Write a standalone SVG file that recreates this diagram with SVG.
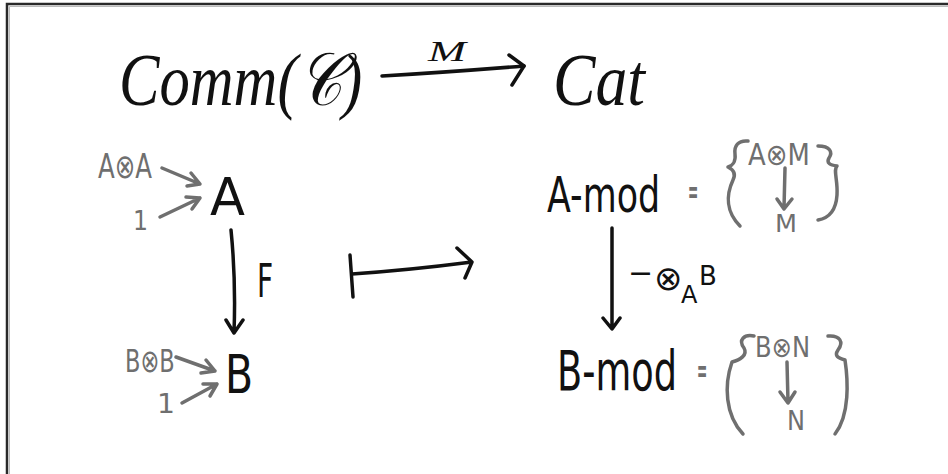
<svg xmlns="http://www.w3.org/2000/svg" width="948" height="474" viewBox="0 0 948 474">
<style>
.blk{fill:#111;font-family:"DejaVu Sans","Liberation Sans",sans-serif}
.gry{fill:#6f6f6f;font-family:"DejaVu Sans","Liberation Sans",sans-serif}
.scr{fill:#111;font-family:"Liberation Serif","DejaVu Serif",serif;font-style:italic}
.lk{fill:none;stroke:#111;stroke-width:3.5;stroke-linecap:round;stroke-linejoin:round}
.lg{fill:none;stroke:#6f6f6f;stroke-width:3.5;stroke-linecap:round;stroke-linejoin:round}
</style>
<rect width="948" height="474" fill="#fff"/>
<path d="M7,474 L7,4 L948,4" fill="none" stroke="#2a2a2a" stroke-width="2.5"/>
<path d="M9.5,474 L9.5,6.5 L948,6.5" fill="none" stroke="#bbb" stroke-width="1"/>

<g id="comm">
<text class="scr" transform="translate(119,105) scale(0.8,1)" font-size="74" textLength="304" lengthAdjust="spacingAndGlyphs">Comm(𝒞)</text>
</g>
<g id="cat">
<text class="scr" transform="translate(553,105) scale(0.86,1)" font-size="74" textLength="107" lengthAdjust="spacingAndGlyphs">Cat</text>
</g>
<g id="A">
<text class="blk" x="210" y="215" font-size="52" textLength="35" lengthAdjust="spacingAndGlyphs">A</text>
</g>
<g id="B">
<text class="blk" transform="translate(225,393) scale(0.76,1)" font-size="54" textLength="37" lengthAdjust="spacingAndGlyphs">B</text>
</g>
<g id="AxA">
<text class="gry" transform="translate(98,178) scale(0.72,1)" font-size="34" textLength="75" lengthAdjust="spacingAndGlyphs">A⊗A</text>
</g>
<g id="oneA">
<text class="gry" x="133" y="230" font-size="27" textLength="15" lengthAdjust="spacingAndGlyphs">1</text>
</g>
<g id="BxB">
<text class="gry" transform="translate(125,372) scale(0.71,1)" font-size="32" textLength="70" lengthAdjust="spacingAndGlyphs">B⊗B</text>
</g>
<g id="oneB">
<text class="gry" x="157" y="413" font-size="27" textLength="18" lengthAdjust="spacingAndGlyphs">1</text>
</g>
<g id="Amod">
<text class="blk" transform="translate(547,212) scale(0.69,1)" font-size="50" textLength="164" lengthAdjust="spacingAndGlyphs">A-mod</text>
<text class="gry" transform="translate(688,203) scale(0.38,1)" font-size="32" font-weight="bold" textLength="27" lengthAdjust="spacingAndGlyphs">=</text>
<path class="lg" d="M748,141 C738,140 734,146 735,154 C736,162 732,166 728,167 C734,170 736,174 733,180 C726,195 726,212 740,226"/>
<path class="lg" d="M818,146 C830,146 833,152 829,158 C826,163 830,165 837,166 C833,170 838,180 837,195 C836,210 830,218 818,220"/>
<text class="gry" transform="translate(748,165) scale(0.87,1)" font-size="30" textLength="71" lengthAdjust="spacingAndGlyphs">A⊗M</text>
<text class="gry" x="775" y="232" font-size="24" textLength="22" lengthAdjust="spacingAndGlyphs">M</text>
</g>
<g id="Bmod">
<text class="blk" transform="translate(557,390) scale(0.66,1)" font-size="56" textLength="182" lengthAdjust="spacingAndGlyphs">B-mod</text>
<text class="gry" transform="translate(697,382) scale(0.38,1)" font-size="32" font-weight="bold" textLength="27" lengthAdjust="spacingAndGlyphs">=</text>
<path class="lg" d="M754,336 C744,334 738,340 744,348 C748,355 740,360 732,362 C724,385 725,415 743,434"/>
<path class="lg" d="M828,336 C840,335 844,342 838,350 C834,356 838,358 845,360 C848,380 850,415 835,434"/>
<text class="gry" transform="translate(755,357) scale(0.86,1)" font-size="28" textLength="64" lengthAdjust="spacingAndGlyphs">B⊗N</text>
<text class="gry" x="787" y="430" font-size="27" textLength="18" lengthAdjust="spacingAndGlyphs">N</text>
</g>

<g id="connectors">
<path class="lk" stroke-width="4" d="M382,76 Q450,72 524,66"/>
<path class="lk" stroke-width="4" d="M509,55 L524,66 L512,85"/>
<text class="scr" x="428" y="61" font-size="30" textLength="38" lengthAdjust="spacingAndGlyphs">M</text>

<path class="lg" d="M162,168 L200,184 M187,186 L200,184 L191,173"/>
<path class="lg" d="M160,217 L200,198 M192,209 L200,198 L186,197"/>
<path class="lg" d="M176,357 L215,371 M201,373 L215,371 L206,360"/>
<path class="lg" d="M182,403 L217,384 M210,396 L217,384 L203,384"/>

<path class="lk" d="M231,230 Q236,280 234,333 M226,320 L234,333 L243,320"/>
<text class="blk" transform="translate(257,297) scale(0.62,1)" font-size="46" textLength="26" lengthAdjust="spacingAndGlyphs">F</text>

<path class="lk" stroke-width="5" d="M350,255 L353,297"/>
<path class="lk" d="M352,274 Q410,270 472,262 M457,248 L472,262 L465,278"/>

<path class="lk" d="M612,228 L612,328 M603,318 L612,329 L620,318"/>
<text class="blk" font-size="30"><tspan x="628" y="283">−</tspan><tspan x="654" y="290" font-size="34">⊗</tspan><tspan x="681" y="303" font-size="24">A</tspan><tspan x="699" y="285" font-size="26">B</tspan></text>

<path class="lg" d="M785,168 L784,208 M777,199 L784,209 L792,199"/>
<path class="lg" d="M787,362 L788,402 M780,392 L788,403 L795,392"/>
</g>
</svg>
